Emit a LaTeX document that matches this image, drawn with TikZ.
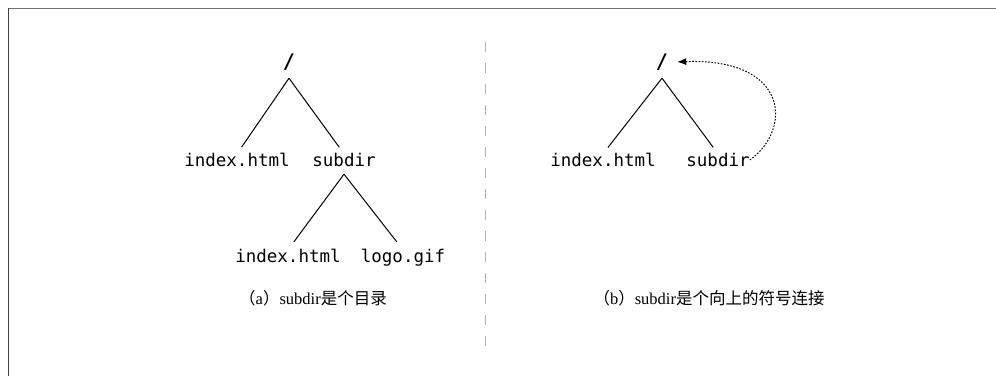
\documentclass[tikz,border=0pt]{standalone}
\usepackage{fontspec}
\setmainfont{Liberation Serif}
\setmonofont{DejaVu Sans Mono}
\newfontfamily\cjk{Noto Sans CJK SC}
\usetikzlibrary{arrows.meta}
\begin{document}
\begin{tikzpicture}[x=1pt,y=-1pt,
  fname/.style={font=\ttfamily\fontsize{17.5}{17.5}\selectfont, inner sep=0pt, text height=12pt, text depth=0pt},
  rootname/.style={fname, font=\ttfamily\bfseries\fontsize{20}{20}\selectfont},
  edge/.style={line width=1pt, black, shorten >=8pt},
  caption/.style={font=\fontsize{16.5}{16.5}\selectfont, inner sep=0pt},
  divider/.style={line width=1pt, black!30, dash pattern=on 10pt off 11pt},
  link/.style={line width=1pt, dash pattern=on 1.6pt off 1.6pt, -{Latex[length=9pt,width=7pt]}, shorten >=3pt}
]
\useasboundingbox (0,0) rectangle (996,376);
% frame (top and left edges only visible)
\draw[line width=1.3pt, black!55] (8,8.5) -- (996,8.5);
\draw[line width=1.3pt, black!75] (8.5,8) -- (8.5,376);
% divider
\draw[divider] (485,42) -- (485,356);

% (a) tree
\node[rootname] (ra) at (289,62) {/};
\node[fname] (ia) at (237,160) {index.html};
\node[fname] (sa) at (344,160) {subdir};
\node[fname] (ia2) at (288,256) {index.html};
\node[fname] (lg) at (403,256) {logo.gif};
\coordinate (ra-top) at ([yshift=-10pt]ra.south);
\coordinate (sa-top) at ([yshift=-8pt]sa.south);
\draw[edge] (ra-top) -- (ia.north);
\draw[edge] (ra-top) -- (sa.north);
\draw[edge, shorten >=10pt] (sa-top) -- (ia2.north);
\draw[edge, shorten >=10pt] (sa-top) -- (lg.north);
\node[caption] (capa) at (313,298) {{\cjk （}a{\cjk ）}subdir{\cjk 是个目录}};

% (b) tree
\node[rootname] (rb) at (662,62) {/};
\node[fname] (ib) at (603,160) {index.html};
\node[fname] (sb) at (718,160) {subdir};
\coordinate (rb-top) at ([yshift=-10pt]rb.south);
\draw[edge] (rb-top) -- (ib.north);
\draw[edge] (rb-top) -- (sb.north);
\draw[link] (sb.east) .. controls (792,130) and (790,58) .. ([xshift=6pt]rb.east);
\node[caption] (capb) at (709,298) {{\cjk （}b{\cjk ）}subdir{\cjk 是个向上的符号连接}};
\end{tikzpicture}
\end{document}
